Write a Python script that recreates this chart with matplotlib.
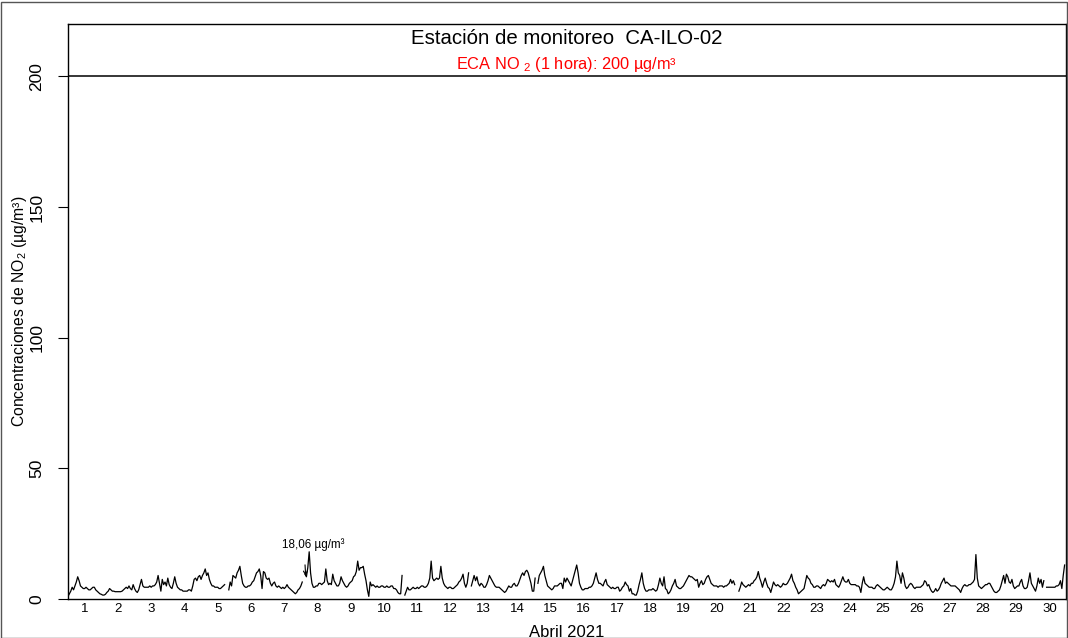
import numpy as np
import matplotlib.pyplot as plt
from matplotlib.patches import Rectangle

nan = np.nan

# hourly NO2 concentrations (ug/m3), April 2021, one list per day
d01 = [1.0, 2.0, 3.0, 4.5, 3.5, 5.0, 6.5, 8.5, 7.0, 5.0, 4.5, 4.0, 4.0, 4.5, 4.0, 3.5, 3.5, 4.0, 4.5, 4.5, 3.5, 3.0, 2.5, 2.0]
d02 = [1.8, 1.5, 1.5, 1.8, 2.5, 3.0, 4.0, 3.5, 3.0, 3.0, 2.8, 2.8, 2.8, 2.8, 2.8, 3.0, 3.5, 4.0, 4.5, 4.0, 5.0, 4.0, 3.5, 5.5]
d03 = [4.0, 3.0, 2.5, 3.5, 5.5, 7.5, 5.0, 4.5, 4.5, 4.5, 4.5, 5.0, 4.5, 5.0, 5.0, 5.5, 6.5, 9.0, 6.0, 3.0, 7.5, 5.5, 6.5, 5.0]
d04 = [8.0, 5.5, 4.5, 4.0, 6.0, 8.5, 6.0, 4.5, 4.0, 3.5, 3.5, 3.0, 3.0, 3.0, 3.0, 3.5, 3.5, 3.0, 5.0, 7.5, 8.0, 7.0, 8.5, 9.0]
d05 = [7.5, 9.0, 10.0, 11.5, 9.0, 10.0, 7.5, 6.0, 5.0, 5.0, 4.5, 4.5, 4.5, 4.0, 4.0, 4.5, 5.0, 5.5, nan, nan, 3.5, 6.5, 5.0, 9.0]
d06 = [8.5, 8.0, 10.0, 11.0, 12.5, 9.0, 6.0, 5.0, 4.5, 4.5, 5.0, 5.0, 5.5, 6.5, 7.0, 8.5, 10.0, 10.5, 11.5, 9.0, 4.0, 10.5, 10.0, 8.0]
d07 = [7.5, 8.0, 6.0, 5.0, 6.0, 6.5, 5.0, 4.5, 5.0, 4.5, 4.0, 4.5, 4.0, 4.5, 5.5, 4.5, 4.0, 3.5, 3.0, 2.5, 2.0, 2.5, 3.5, 4.0]
d08 = [5.0, 6.5, nan, 9.5, 8.5, 12.0, 18.06, 10.0, 6.0, 4.5, 4.5, 5.0, 5.0, 6.0, 6.0, 5.5, 6.0, 6.5, 11.5, 7.0, 5.5, 6.0, 5.5, 9.5]
d09 = [7.0, 6.0, 5.0, 5.0, 6.0, 8.5, 7.0, 6.0, 5.0, 4.5, 5.0, 6.0, 6.5, 7.0, 8.5, 9.0, 10.5, 14.5, 11.0, 12.0, 12.0, 12.5, 9.5, 7.0]
d10 = [3.5, 1.0, 6.5, 5.0, 5.5, 5.0, 4.5, 5.0, 4.5, 4.5, 5.0, 5.0, 4.5, 4.5, 5.0, 4.5, 4.5, 5.0, 5.0, 4.0, 4.0, 3.5, 2.5, 2.0]
d11 = [2.0, 9.0, nan, 1.5, 3.0, 4.5, 3.5, 3.5, 4.0, 4.5, 4.0, 4.0, 4.5, 4.0, 4.5, 5.0, 5.0, 4.5, 4.5, 5.0, 6.0, 8.0, 14.5, 8.0]
d12 = [7.0, 7.5, 8.0, 7.5, 8.0, 12.5, 8.0, 6.0, 5.0, 4.5, 4.0, 4.5, 4.5, 4.0, 4.0, 4.5, 5.0, 5.5, 6.5, 7.0, 8.0, 9.5, 6.0, 4.5]
d13 = [6.0, 10.0, nan, 5.0, 7.0, 9.0, 7.0, 8.5, 6.0, 5.0, 6.0, 5.5, 4.5, 4.5, 5.5, 7.0, 9.0, 8.0, 7.0, 6.0, 5.0, 4.5, 4.5, 4.5]
d14 = [4.0, 3.5, 3.0, 2.5, 3.0, 4.0, 5.0, 4.5, 4.5, 5.5, 6.0, 5.0, 5.0, 6.0, 7.5, 9.0, 10.0, 9.0, 10.5, 11.0, 10.0, 8.0, 6.0, 3.0]
d15 = [3.0, 8.0, nan, 6.0, 9.0, 10.0, 11.0, 12.5, 9.0, 7.0, 5.0, 4.5, 4.0, 3.5, 4.0, 5.0, 5.0, 5.0, 5.5, 6.0, 6.0, 4.0, 8.0, 6.5]
d16 = [8.0, 7.0, 6.0, 5.0, 7.0, 9.0, 11.0, 13.0, 10.0, 6.0, 4.5, 3.5, 3.5, 4.0, 4.0, 4.0, 4.5, 4.5, 5.0, 6.0, 8.0, 10.0, 7.5, 6.0]
d17 = [6.0, 5.5, 5.0, 6.5, 7.5, 5.5, 5.0, 4.5, 4.0, 4.5, 4.0, 4.0, 4.5, 4.5, 3.0, 3.5, 4.5, 5.0, 6.5, 5.5, 5.0, 3.0, 4.0, 2.0]
d18 = [2.0, 1.5, 1.5, 3.0, 5.5, 7.5, 10.0, 6.0, 4.0, 3.0, 3.0, 3.5, 3.5, 3.5, 4.0, 3.5, 3.0, 3.5, 5.5, 8.0, 6.0, 5.0, 8.5, 4.0]
d19 = [3.5, 2.0, 2.5, 3.5, 5.0, 6.0, 7.5, 5.0, 4.5, 4.0, 4.0, 4.5, 5.0, 6.0, 7.0, 8.0, 9.0, 8.5, 8.5, 8.0, 7.5, 7.0, 7.5, 4.5]
d20 = [6.0, 7.0, 5.5, 6.0, 7.5, 8.5, 9.0, 7.5, 6.0, 5.5, 5.0, 5.0, 5.0, 4.5, 5.0, 5.0, 5.0, 4.5, 5.0, 5.0, 5.5, 6.0, 7.5, 6.0]
d21 = [7.0, 5.5, nan, nan, 3.0, 4.5, 6.5, 5.5, 5.0, 4.5, 5.0, 5.5, 5.0, 6.0, 6.0, 7.0, 7.5, 8.5, 10.5, 8.0, 6.5, 4.5, 6.5, 8.0]
d22 = [6.0, 4.5, 4.0, 2.5, 4.5, 6.5, 5.5, 5.0, 5.5, 5.0, 4.5, 5.0, 6.0, 5.5, 5.5, 6.0, 7.0, 8.0, 9.5, 7.0, 6.0, 4.5, 3.5, 2.0]
d23 = [2.5, 3.0, 3.5, 4.0, 6.5, 9.0, 8.0, 7.5, 6.0, 5.5, 4.5, 4.5, 5.0, 5.0, 4.5, 4.0, 5.0, 5.5, 5.0, 6.0, 7.5, 7.0, 6.5, 7.0]
d24 = [6.5, 7.5, 5.5, 5.0, 4.5, 5.5, 7.0, 8.5, 7.0, 6.5, 6.5, 7.5, 6.0, 5.5, 5.5, 5.5, 5.5, 5.0, 5.0, 4.5, 2.5, 6.0, 8.5, 6.0]
d25 = [5.5, 5.0, 4.5, 4.5, 4.5, 4.0, 4.0, 5.0, 5.5, 5.0, 4.5, 4.0, 3.5, 3.5, 4.0, 4.5, 4.0, 3.5, 3.5, 4.5, 6.0, 8.5, 14.5, 10.0]
d26 = [9.0, 6.0, 10.0, 8.0, 5.0, 4.0, 4.5, 5.5, 6.0, 5.5, 4.5, 4.0, 4.5, 4.5, 4.5, 4.5, 5.0, 5.5, 7.0, 6.5, 5.0, 5.5, 4.0, 3.0]
d27 = [2.5, 3.0, 4.0, 3.0, 3.5, 4.5, 6.0, 7.0, 8.0, 6.0, 6.5, 6.0, 5.5, 5.0, 5.0, 5.0, 5.0, 4.5, 4.0, 3.5, 2.5, 4.0, 5.0, 5.5]
d28 = [5.0, 5.0, 5.5, 5.5, 6.0, 6.5, 7.5, 17.0, 8.0, 5.0, 4.5, 4.0, 4.5, 5.0, 5.5, 5.5, 6.0, 6.0, 5.0, 4.0, 3.0, 2.5, 2.5, 3.0]
d29 = [3.5, 5.0, 7.0, 9.0, 6.0, 9.5, 8.5, 6.5, 6.0, 7.5, 5.0, 4.0, 4.5, 5.0, 5.0, 6.5, 7.5, 5.0, 4.0, 4.0, 4.5, 7.0, 10.0, 6.0]
d30 = [5.0, 4.0, 3.0, 5.0, 8.0, 6.0, 7.5, 4.5, 7.0, nan, 4.5, 4.5, 4.5, 4.5, 4.5, 4.5, 4.5, 5.0, 5.0, 5.5, 7.0, 4.0, 9.0, 13.0]

days = list(range(1, 31))
eca_limit = 200
max_value = 18.06
max_label = "18,06 µg/m³"

plt.rcParams['font.family'] = ['Liberation Sans', 'DejaVu Sans']
plt.rcParams['mathtext.fontset'] = 'custom'
plt.rcParams['mathtext.rm'] = 'Liberation Sans'
plt.rcParams['mathtext.it'] = 'Liberation Sans'


def main():
    no2 = np.array(d01 + d02 + d03 + d04 + d05 + d06 + d07 + d08 + d09 + d10
                   + d11 + d12 + d13 + d14 + d15 + d16 + d17 + d18 + d19 + d20
                   + d21 + d22 + d23 + d24 + d25 + d26 + d27 + d28 + d29 + d30)
    hours = np.arange(len(no2))
    imax = int(np.nanargmax(no2))

    fig = plt.figure(figsize=(10.68, 6.38), dpi=100)
    fig.patches.append(Rectangle((0.001, 0.0), 0.998, 0.997, transform=fig.transFigure,
                                 fill=False, edgecolor='#555555', linewidth=1))
    ax = fig.add_axes([68 / 1068, 39 / 638, 998 / 1068, 575 / 638])

    ax.plot(hours, no2, color='black', linewidth=0.9)
    ax.axhline(eca_limit, color='black', linewidth=1.1)

    ax.set_xlim(0, 720)
    ax.set_ylim(0, 220)
    ax.set_xticks([24 * (d - 1) + 12 for d in days])
    ax.set_xticklabels([str(d) for d in days], fontsize=9.5)
    ax.tick_params(axis='x', length=0, pad=3)
    ax.set_yticks([0, 50, 100, 150, 200])
    ax.set_yticklabels(['0', '50', '100', '150', '200'], rotation=90, va='center', fontsize=12.5)
    ax.tick_params(axis='y', length=7, pad=10)
    for s in ax.spines.values():
        s.set_linewidth(1)

    ax.set_xlabel('Abril 2021', fontsize=12, labelpad=7)
    ax.set_ylabel('Concentraciones de NO$_2$ (µg/m³)', fontsize=11.3, labelpad=0)

    ax.text(0.5, 0.974, 'Estación de monitoreo  CA-ILO-02', transform=ax.transAxes,
            ha='center', va='center', fontsize=14.7)
    ax.text(0.5, 0.93, 'ECA NO $_2$ (1 hora): 200 µg/m³', transform=ax.transAxes,
            ha='center', va='center', fontsize=11.8, color='red')

    # label of the maximum, with a short pointer
    ax.text(hours[imax] + 3, max_value + 2.6, max_label, ha='center', va='center', fontsize=8.4)
    ax.annotate('', xy=(hours[imax] - 2.5, max_value - 9.3), xytext=(hours[imax] - 3, max_value - 5),
                arrowprops=dict(arrowstyle='->', color='black', lw=0.8,
                                shrinkA=0, shrinkB=0, mutation_scale=7))

    fig.savefig('out.png', dpi=100)


if __name__ == "__main__":
    main()
